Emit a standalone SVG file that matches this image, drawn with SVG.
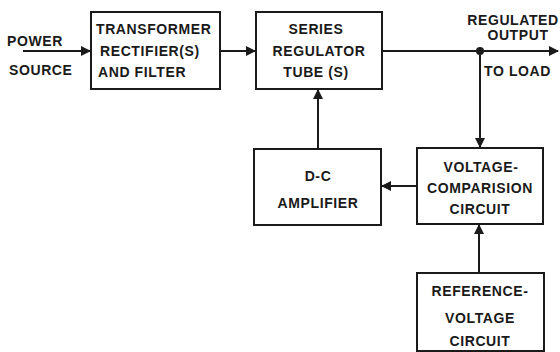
<svg xmlns="http://www.w3.org/2000/svg" width="560" height="352" viewBox="0 0 560 352">
<defs>
<style>
.box{fill:#fff;stroke:#1a1a1a;stroke-width:2}
.ln{stroke:#1a1a1a;stroke-width:2;fill:none}
text{font-family:"Liberation Sans",Arial,sans-serif;font-weight:bold;font-size:14px;fill:#1a1a1a;letter-spacing:0.6px}
.c{text-anchor:middle}
</style>
<marker id="ah" viewBox="0 0 10 10" refX="9" refY="5" markerWidth="5.5" markerHeight="5" orient="auto" markerUnits="strokeWidth">
<path d="M0,0 L10,5 L0,10 z" fill="#1a1a1a"/>
</marker>
</defs>
<rect width="560" height="352" fill="#fff"/>
<g id="connectors">
<line class="ln" x1="23" y1="51" x2="90" y2="51" marker-end="url(#ah)"/>
<line class="ln" x1="221" y1="51" x2="255" y2="51" marker-end="url(#ah)"/>
<line class="ln" x1="383" y1="51" x2="558" y2="51" marker-end="url(#ah)"/>
<circle cx="480" cy="51" r="4" fill="#1a1a1a"/>
<line class="ln" x1="480" y1="51" x2="480" y2="147" marker-end="url(#ah)"/>
<line class="ln" x1="416" y1="186" x2="382" y2="186" marker-end="url(#ah)"/>
<line class="ln" x1="318" y1="148" x2="318" y2="90" marker-end="url(#ah)"/>
<line class="ln" x1="479" y1="272" x2="479" y2="225" marker-end="url(#ah)"/>
</g>
<g id="power-source">
<text x="7" y="46">POWER</text>
<text x="9" y="75">SOURCE</text>
</g>
<g id="transformer">
<rect class="box" x="91" y="12" width="129" height="77"/>
<text x="96" y="34">TRANSFORMER</text>
<text x="100" y="56">RECTIFIER(S)</text>
<text x="98" y="77">AND FILTER</text>
</g>
<g id="series-regulator">
<rect class="box" x="256" y="12" width="126" height="77"/>
<text class="c" x="316" y="34">SERIES</text>
<text class="c" x="319" y="56">REGULATOR</text>
<text class="c" x="316" y="77">TUBE (S)</text>
</g>
<g id="output">
<text class="c" x="513" y="25">REGULATED</text>
<text class="c" x="518" y="40">OUTPUT</text>
<text x="484" y="76">TO LOAD</text>
</g>
<g id="dc-amplifier">
<rect class="box" x="254" y="149" width="127" height="76"/>
<text class="c" x="318" y="181">D-C</text>
<text class="c" x="318" y="208">AMPLIFIER</text>
</g>
<g id="voltage-comparison">
<rect class="box" x="417" y="148" width="126" height="76"/>
<text class="c" x="481" y="172">VOLTAGE-</text>
<text class="c" x="480" y="193">COMPARISION</text>
<text class="c" x="480" y="214">CIRCUIT</text>
</g>
<g id="reference-voltage">
<rect class="box" x="417" y="273" width="127" height="78"/>
<text class="c" x="480" y="296">REFERENCE-</text>
<text class="c" x="480" y="323">VOLTAGE</text>
<text class="c" x="480" y="346">CIRCUIT</text>
</g>
</svg>
